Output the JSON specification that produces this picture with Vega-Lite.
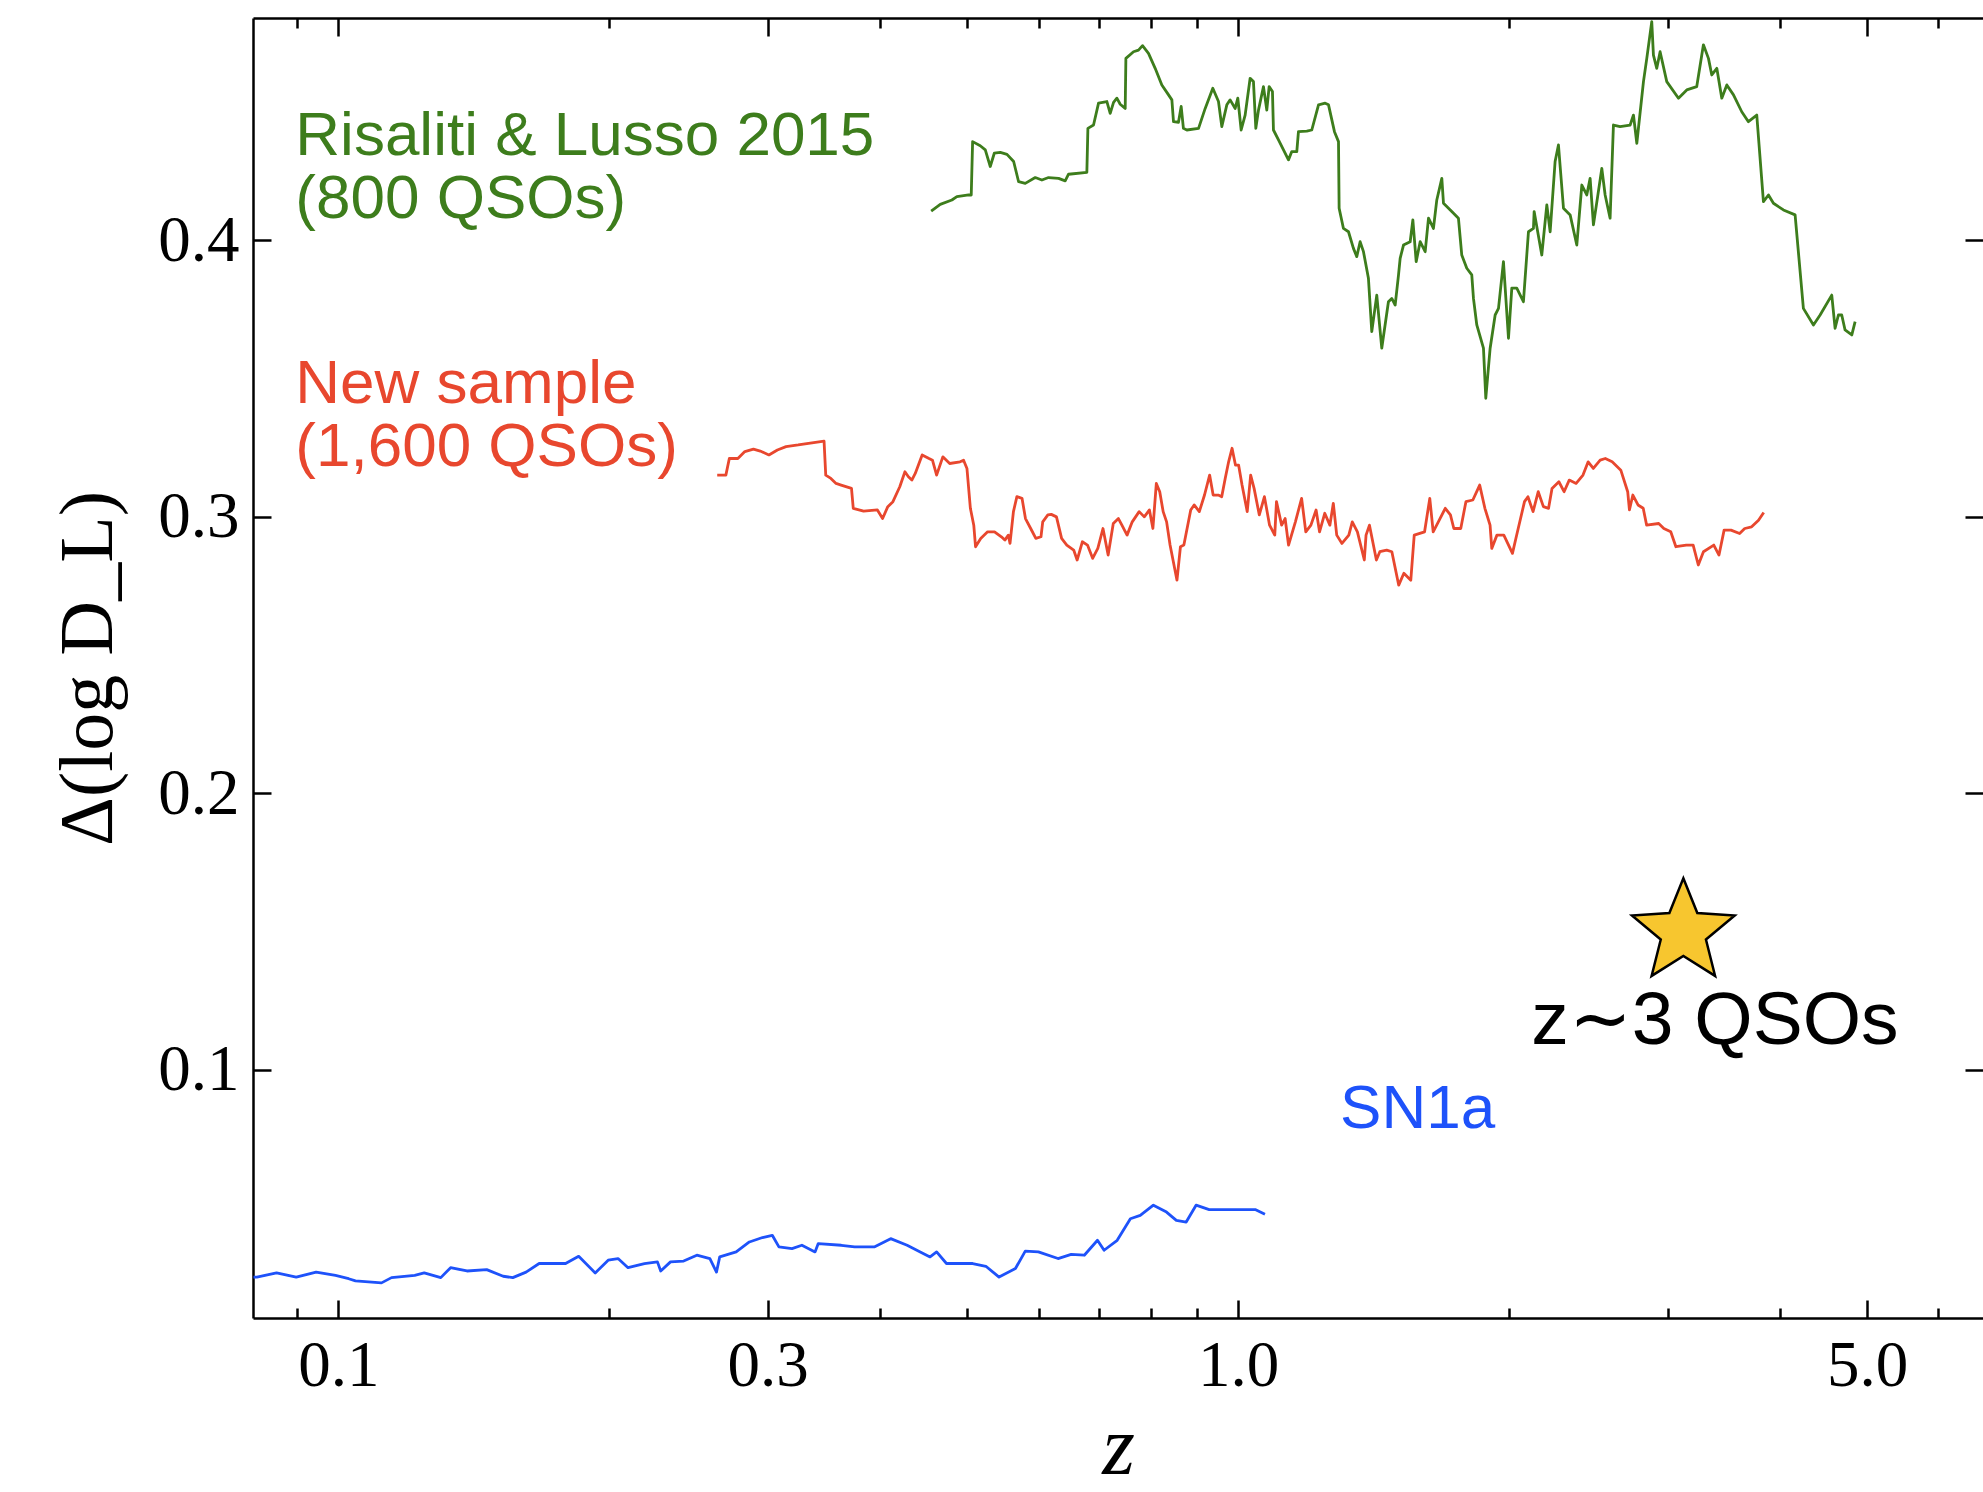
{
"$schema": "https://vega.github.io/schema/vega-lite/v6.json",
"width": 1730, "height": 1300,
"autosize": "none",
"padding": {"left": 253, "top": 18, "right": 0, "bottom": 174},
"background": "white",
"config": {"view": {"stroke": null}, "axis": {"grid": false, "domainColor": "black", "tickColor": "black", "labelColor": "black", "titleColor": "black", "domainWidth": 2.5, "tickWidth": 2.5}},
"datasets": {
"curves": [
{"s":"RL15","i":1,"z":0.4559,"v":0.4106},{"s":"RL15","i":2,"z":0.4666,"v":0.4130},{"s":"RL15","i":3,"z":0.4807,"v":0.4146},{"s":"RL15","i":4,"z":0.4869,"v":0.4158},{"s":"RL15","i":5,"z":0.5017,"v":0.4164},{"s":"RL15","i":6,"z":0.5051,"v":0.4164},{"s":"RL15","i":7,"z":0.5069,"v":0.4357},{"s":"RL15","i":8,"z":0.5169,"v":0.4342},{"s":"RL15","i":9,"z":0.5236,"v":0.4327},{"s":"RL15","i":10,"z":0.5303,"v":0.4267},
{"s":"RL15","i":11,"z":0.5358,"v":0.4315},{"s":"RL15","i":12,"z":0.5441,"v":0.4318},{"s":"RL15","i":13,"z":0.5535,"v":0.4311},{"s":"RL15","i":14,"z":0.5630,"v":0.4285},{"s":"RL15","i":15,"z":0.5702,"v":0.4212},{"s":"RL15","i":16,"z":0.5800,"v":0.4206},{"s":"RL15","i":17,"z":0.5950,"v":0.4227},{"s":"RL15","i":18,"z":0.6052,"v":0.4218},{"s":"RL15","i":19,"z":0.6156,"v":0.4227},{"s":"RL15","i":20,"z":0.6316,"v":0.4224},
{"s":"RL15","i":21,"z":0.6424,"v":0.4215},{"s":"RL15","i":22,"z":0.6479,"v":0.4239},{"s":"RL15","i":23,"z":0.6790,"v":0.4246},{"s":"RL15","i":24,"z":0.6808,"v":0.4405},{"s":"RL15","i":25,"z":0.6907,"v":0.4417},{"s":"RL15","i":26,"z":0.6996,"v":0.4496},{"s":"RL15","i":27,"z":0.7147,"v":0.4502},{"s":"RL15","i":28,"z":0.7208,"v":0.4459},{"s":"RL15","i":29,"z":0.7270,"v":0.4499},{"s":"RL15","i":30,"z":0.7332,"v":0.4514},
{"s":"RL15","i":31,"z":0.7395,"v":0.4492},{"s":"RL15","i":32,"z":0.7490,"v":0.4477},{"s":"RL15","i":33,"z":0.7503,"v":0.4658},{"s":"RL15","i":34,"z":0.7651,"v":0.4682},{"s":"RL15","i":35,"z":0.7749,"v":0.4688},{"s":"RL15","i":36,"z":0.7829,"v":0.4704},{"s":"RL15","i":37,"z":0.7950,"v":0.4676},{"s":"RL15","i":38,"z":0.8087,"v":0.4622},{"s":"RL15","i":39,"z":0.8226,"v":0.4562},{"s":"RL15","i":40,"z":0.8368,"v":0.4526},
{"s":"RL15","i":41,"z":0.8440,"v":0.4508},{"s":"RL15","i":42,"z":0.8475,"v":0.4429},{"s":"RL15","i":43,"z":0.8584,"v":0.4427},{"s":"RL15","i":44,"z":0.8643,"v":0.4484},{"s":"RL15","i":45,"z":0.8693,"v":0.4405},{"s":"RL15","i":46,"z":0.8769,"v":0.4399},{"s":"RL15","i":47,"z":0.9036,"v":0.4405},{"s":"RL15","i":48,"z":0.9191,"v":0.4477},{"s":"RL15","i":49,"z":0.9372,"v":0.4550},{"s":"RL15","i":50,"z":0.9509,"v":0.4502},
{"s":"RL15","i":51,"z":0.9590,"v":0.4411},{"s":"RL15","i":52,"z":0.9714,"v":0.4490},{"s":"RL15","i":53,"z":0.9797,"v":0.4508},{"s":"RL15","i":54,"z":0.9924,"v":0.4477},{"s":"RL15","i":55,"z":0.9991,"v":0.4514},{"s":"RL15","i":56,"z":1.0077,"v":0.4399},{"s":"RL15","i":57,"z":1.0180,"v":0.4453},{"s":"RL15","i":58,"z":1.0311,"v":0.4586},{"s":"RL15","i":59,"z":1.0399,"v":0.4574},{"s":"RL15","i":60,"z":1.0462,"v":0.4405},
{"s":"RL15","i":61,"z":1.0534,"v":0.4471},{"s":"RL15","i":62,"z":1.0669,"v":0.4556},{"s":"RL15","i":63,"z":1.0760,"v":0.4471},{"s":"RL15","i":64,"z":1.0825,"v":0.4556},{"s":"RL15","i":65,"z":1.0917,"v":0.4538},{"s":"RL15","i":66,"z":1.0945,"v":0.4399},{"s":"RL15","i":67,"z":1.1087,"v":0.4363},{"s":"RL15","i":68,"z":1.1230,"v":0.4327},{"s":"RL15","i":69,"z":1.1374,"v":0.4291},{"s":"RL15","i":70,"z":1.1471,"v":0.4321},
{"s":"RL15","i":71,"z":1.1619,"v":0.4321},{"s":"RL15","i":72,"z":1.1668,"v":0.4393},{"s":"RL15","i":73,"z":1.1920,"v":0.4395},{"s":"RL15","i":74,"z":1.2073,"v":0.4399},{"s":"RL15","i":75,"z":1.2283,"v":0.4490},{"s":"RL15","i":76,"z":1.2494,"v":0.4496},{"s":"RL15","i":77,"z":1.2601,"v":0.4490},{"s":"RL15","i":78,"z":1.2794,"v":0.4393},{"s":"RL15","i":79,"z":1.2927,"v":0.4357},{"s":"RL15","i":80,"z":1.2948,"v":0.4116},
{"s":"RL15","i":81,"z":1.3092,"v":0.4043},{"s":"RL15","i":82,"z":1.3262,"v":0.4031},{"s":"RL15","i":83,"z":1.3431,"v":0.3971},{"s":"RL15","i":84,"z":1.3546,"v":0.3941},{"s":"RL15","i":85,"z":1.3662,"v":0.3995},{"s":"RL15","i":86,"z":1.3780,"v":0.3959},{"s":"RL15","i":87,"z":1.3956,"v":0.3863},{"s":"RL15","i":88,"z":1.4076,"v":0.3670},{"s":"RL15","i":89,"z":1.4257,"v":0.3802},{"s":"RL15","i":90,"z":1.4440,"v":0.3610},
{"s":"RL15","i":91,"z":1.4689,"v":0.3778},{"s":"RL15","i":92,"z":1.4815,"v":0.3790},{"s":"RL15","i":93,"z":1.4944,"v":0.3766},{"s":"RL15","i":94,"z":1.5073,"v":0.3875},{"s":"RL15","i":95,"z":1.5136,"v":0.3935},{"s":"RL15","i":96,"z":1.5266,"v":0.3983},{"s":"RL15","i":97,"z":1.5529,"v":0.3995},{"s":"RL15","i":98,"z":1.5636,"v":0.4074},{"s":"RL15","i":99,"z":1.5770,"v":0.3923},{"s":"RL15","i":100,"z":1.5931,"v":0.3995},
{"s":"RL15","i":101,"z":1.6137,"v":0.3959},{"s":"RL15","i":102,"z":1.6275,"v":0.4080},{"s":"RL15","i":103,"z":1.6482,"v":0.4043},{"s":"RL15","i":104,"z":1.6624,"v":0.4146},{"s":"RL15","i":105,"z":1.6839,"v":0.4224},{"s":"RL15","i":106,"z":1.6911,"v":0.4134},{"s":"RL15","i":107,"z":1.7273,"v":0.4104},{"s":"RL15","i":108,"z":1.7570,"v":0.4080},{"s":"RL15","i":109,"z":1.7720,"v":0.3947},{"s":"RL15","i":110,"z":1.7950,"v":0.3899},
{"s":"RL15","i":111,"z":1.8180,"v":0.3875},{"s":"RL15","i":112,"z":1.8259,"v":0.3790},{"s":"RL15","i":113,"z":1.8415,"v":0.3694},{"s":"RL15","i":114,"z":1.8732,"v":0.3610},{"s":"RL15","i":115,"z":1.8844,"v":0.3429},{"s":"RL15","i":116,"z":1.9055,"v":0.3610},{"s":"RL15","i":117,"z":1.9301,"v":0.3730},{"s":"RL15","i":118,"z":1.9467,"v":0.3754},{"s":"RL15","i":119,"z":1.9715,"v":0.3923},{"s":"RL15","i":120,"z":1.9971,"v":0.3646},
{"s":"RL15","i":121,"z":2.0141,"v":0.3827},{"s":"RL15","i":122,"z":2.0399,"v":0.3827},{"s":"RL15","i":123,"z":2.0749,"v":0.3778},{"s":"RL15","i":124,"z":2.1018,"v":0.4031},{"s":"RL15","i":125,"z":2.1287,"v":0.4043},{"s":"RL15","i":126,"z":2.1326,"v":0.4104},{"s":"RL15","i":127,"z":2.1747,"v":0.3947},{"s":"RL15","i":128,"z":2.2029,"v":0.4128},{"s":"RL15","i":129,"z":2.2218,"v":0.4031},{"s":"RL15","i":130,"z":2.2501,"v":0.4285},
{"s":"RL15","i":131,"z":2.2694,"v":0.4345},{"s":"RL15","i":132,"z":2.2988,"v":0.4116},{"s":"RL15","i":133,"z":2.3383,"v":0.4092},{"s":"RL15","i":134,"z":2.3785,"v":0.3983},{"s":"RL15","i":135,"z":2.4093,"v":0.4200},{"s":"RL15","i":136,"z":2.4401,"v":0.4164},{"s":"RL15","i":137,"z":2.4610,"v":0.4224},{"s":"RL15","i":138,"z":2.4820,"v":0.4056},{"s":"RL15","i":139,"z":2.5357,"v":0.4260},{"s":"RL15","i":140,"z":2.5574,"v":0.4164},
{"s":"RL15","i":141,"z":2.5901,"v":0.4080},{"s":"RL15","i":142,"z":2.6123,"v":0.4417},{"s":"RL15","i":143,"z":2.6572,"v":0.4411},{"s":"RL15","i":144,"z":2.7264,"v":0.4417},{"s":"RL15","i":145,"z":2.7497,"v":0.4453},{"s":"RL15","i":146,"z":2.7733,"v":0.4351},{"s":"RL15","i":147,"z":2.8209,"v":0.4574},{"s":"RL15","i":148,"z":2.8450,"v":0.4658},{"s":"RL15","i":149,"z":2.8814,"v":0.4791},{"s":"RL15","i":150,"z":2.8938,"v":0.4670},
{"s":"RL15","i":151,"z":2.9186,"v":0.4622},{"s":"RL15","i":152,"z":2.9436,"v":0.4682},{"s":"RL15","i":153,"z":2.9942,"v":0.4574},{"s":"RL15","i":154,"z":3.0852,"v":0.4514},{"s":"RL15","i":155,"z":3.1514,"v":0.4544},{"s":"RL15","i":156,"z":3.2330,"v":0.4556},{"s":"RL15","i":157,"z":3.2886,"v":0.4707},{"s":"RL15","i":158,"z":3.3312,"v":0.4658},{"s":"RL15","i":159,"z":3.3597,"v":0.4598},{"s":"RL15","i":160,"z":3.4033,"v":0.4622},
{"s":"RL15","i":161,"z":3.4469,"v":0.4514},{"s":"RL15","i":162,"z":3.4915,"v":0.4562},{"s":"RL15","i":163,"z":3.5515,"v":0.4526},{"s":"RL15","i":164,"z":3.6276,"v":0.4465},{"s":"RL15","i":165,"z":3.6898,"v":0.4429},{"s":"RL15","i":166,"z":3.7696,"v":0.4453},{"s":"RL15","i":167,"z":3.8344,"v":0.4140},{"s":"RL15","i":168,"z":3.8841,"v":0.4164},{"s":"RL15","i":169,"z":3.9339,"v":0.4134},{"s":"RL15","i":170,"z":4.0356,"v":0.4110},
{"s":"RL15","i":171,"z":4.1581,"v":0.4092},{"s":"RL15","i":172,"z":4.2472,"v":0.3754},{"s":"RL15","i":173,"z":4.3579,"v":0.3694},{"s":"RL15","i":174,"z":4.4329,"v":0.3730},{"s":"RL15","i":175,"z":4.5670,"v":0.3802},{"s":"RL15","i":176,"z":4.6061,"v":0.3682},{"s":"RL15","i":177,"z":4.6452,"v":0.3730},{"s":"RL15","i":178,"z":4.6850,"v":0.3730},{"s":"RL15","i":179,"z":4.7251,"v":0.3676},{"s":"RL15","i":180,"z":4.8073,"v":0.3658},
{"s":"RL15","i":181,"z":4.8484,"v":0.3706},
{"s":"New","i":1,"z":0.2637,"v":0.3151},{"s":"New","i":2,"z":0.2696,"v":0.3151},{"s":"New","i":3,"z":0.2720,"v":0.3211},{"s":"New","i":4,"z":0.2780,"v":0.3211},{"s":"New","i":5,"z":0.2830,"v":0.3236},{"s":"New","i":6,"z":0.2893,"v":0.3245},{"s":"New","i":7,"z":0.2944,"v":0.3238},{"s":"New","i":8,"z":0.3010,"v":0.3224},{"s":"New","i":9,"z":0.3076,"v":0.3242},{"s":"New","i":10,"z":0.3145,"v":0.3254},
{"s":"New","i":11,"z":0.3244,"v":0.3260},{"s":"New","i":12,"z":0.3331,"v":0.3266},{"s":"New","i":13,"z":0.3466,"v":0.3274},{"s":"New","i":14,"z":0.3481,"v":0.3151},{"s":"New","i":15,"z":0.3527,"v":0.3139},{"s":"New","i":16,"z":0.3574,"v":0.3121},{"s":"New","i":17,"z":0.3621,"v":0.3115},{"s":"New","i":18,"z":0.3718,"v":0.3103},{"s":"New","i":19,"z":0.3735,"v":0.3031},{"s":"New","i":20,"z":0.3835,"v":0.3021},
{"s":"New","i":21,"z":0.3973,"v":0.3025},{"s":"New","i":22,"z":0.4026,"v":0.2994},{"s":"New","i":23,"z":0.4080,"v":0.3037},{"s":"New","i":24,"z":0.4134,"v":0.3055},{"s":"New","i":25,"z":0.4207,"v":0.3109},{"s":"New","i":26,"z":0.4263,"v":0.3163},{"s":"New","i":27,"z":0.4301,"v":0.3145},{"s":"New","i":28,"z":0.4339,"v":0.3133},{"s":"New","i":29,"z":0.4377,"v":0.3157},{"s":"New","i":30,"z":0.4455,"v":0.3224},
{"s":"New","i":31,"z":0.4534,"v":0.3211},{"s":"New","i":32,"z":0.4574,"v":0.3205},{"s":"New","i":33,"z":0.4623,"v":0.3151},{"s":"New","i":34,"z":0.4697,"v":0.3217},{"s":"New","i":35,"z":0.4780,"v":0.3193},{"s":"New","i":36,"z":0.4909,"v":0.3199},{"s":"New","i":37,"z":0.4953,"v":0.3205},{"s":"New","i":38,"z":0.4996,"v":0.3175},{"s":"New","i":39,"z":0.5040,"v":0.3031},{"s":"New","i":40,"z":0.5084,"v":0.2970},
{"s":"New","i":41,"z":0.5107,"v":0.2892},{"s":"New","i":42,"z":0.5175,"v":0.2922},{"s":"New","i":43,"z":0.5267,"v":0.2946},{"s":"New","i":44,"z":0.5361,"v":0.2946},{"s":"New","i":45,"z":0.5456,"v":0.2928},{"s":"New","i":46,"z":0.5505,"v":0.2916},{"s":"New","i":47,"z":0.5554,"v":0.2934},{"s":"New","i":48,"z":0.5578,"v":0.2904},{"s":"New","i":49,"z":0.5627,"v":0.3019},{"s":"New","i":50,"z":0.5677,"v":0.3073},
{"s":"New","i":51,"z":0.5752,"v":0.3067},{"s":"New","i":52,"z":0.5803,"v":0.2994},{"s":"New","i":53,"z":0.5881,"v":0.2958},{"s":"New","i":54,"z":0.5959,"v":0.2922},{"s":"New","i":55,"z":0.6038,"v":0.2928},{"s":"New","i":56,"z":0.6065,"v":0.2982},{"s":"New","i":57,"z":0.6145,"v":0.3007},{"s":"New","i":58,"z":0.6199,"v":0.3009},{"s":"New","i":59,"z":0.6282,"v":0.3000},{"s":"New","i":60,"z":0.6365,"v":0.2922},
{"s":"New","i":61,"z":0.6450,"v":0.2898},{"s":"New","i":62,"z":0.6565,"v":0.2880},{"s":"New","i":63,"z":0.6623,"v":0.2844},{"s":"New","i":64,"z":0.6712,"v":0.2910},{"s":"New","i":65,"z":0.6801,"v":0.2898},{"s":"New","i":66,"z":0.6891,"v":0.2850},{"s":"New","i":67,"z":0.6983,"v":0.2886},{"s":"New","i":68,"z":0.7076,"v":0.2958},{"s":"New","i":69,"z":0.7170,"v":0.2862},{"s":"New","i":70,"z":0.7265,"v":0.2976},
{"s":"New","i":71,"z":0.7361,"v":0.2994},{"s":"New","i":72,"z":0.7427,"v":0.2970},{"s":"New","i":73,"z":0.7526,"v":0.2934},{"s":"New","i":74,"z":0.7626,"v":0.2982},{"s":"New","i":75,"z":0.7762,"v":0.3019},{"s":"New","i":76,"z":0.7865,"v":0.3000},{"s":"New","i":77,"z":0.7969,"v":0.3025},{"s":"New","i":78,"z":0.8040,"v":0.2958},{"s":"New","i":79,"z":0.8111,"v":0.3121},{"s":"New","i":80,"z":0.8182,"v":0.3091},
{"s":"New","i":81,"z":0.8254,"v":0.3019},{"s":"New","i":82,"z":0.8327,"v":0.2982},{"s":"New","i":83,"z":0.8401,"v":0.2898},{"s":"New","i":84,"z":0.8551,"v":0.2771},{"s":"New","i":85,"z":0.8627,"v":0.2892},{"s":"New","i":86,"z":0.8703,"v":0.2898},{"s":"New","i":87,"z":0.8857,"v":0.3025},{"s":"New","i":88,"z":0.8935,"v":0.3043},{"s":"New","i":89,"z":0.9054,"v":0.3019},{"s":"New","i":90,"z":0.9175,"v":0.3079},
{"s":"New","i":91,"z":0.9296,"v":0.3151},{"s":"New","i":92,"z":0.9380,"v":0.3079},{"s":"New","i":93,"z":0.9504,"v":0.3079},{"s":"New","i":94,"z":0.9588,"v":0.3073},{"s":"New","i":95,"z":0.9674,"v":0.3139},{"s":"New","i":96,"z":0.9759,"v":0.3199},{"s":"New","i":97,"z":0.9845,"v":0.3248},{"s":"New","i":98,"z":0.9932,"v":0.3187},
{"s":"New","i":99,"z":1.0012,"v":0.3187},{"s":"New","i":100,"z":1.0100,"v":0.3115},{"s":"New","i":101,"z":1.0235,"v":0.3019},{"s":"New","i":102,"z":1.0325,"v":0.3151},{"s":"New","i":103,"z":1.0416,"v":0.3103},{"s":"New","i":104,"z":1.0556,"v":0.3007},{"s":"New","i":105,"z":1.0695,"v":0.3073},{"s":"New","i":106,"z":1.0837,"v":0.2970},{"s":"New","i":107,"z":1.0982,"v":0.2934},{"s":"New","i":108,"z":1.1030,"v":0.3055},
{"s":"New","i":109,"z":1.1177,"v":0.2970},{"s":"New","i":110,"z":1.1277,"v":0.2994},{"s":"New","i":111,"z":1.1376,"v":0.2898},{"s":"New","i":112,"z":1.1577,"v":0.2982},{"s":"New","i":113,"z":1.1763,"v":0.3067},{"s":"New","i":114,"z":1.1889,"v":0.2946},{"s":"New","i":115,"z":1.2046,"v":0.2970},{"s":"New","i":116,"z":1.2207,"v":0.3025},{"s":"New","i":117,"z":1.2315,"v":0.2946},{"s":"New","i":118,"z":1.2480,"v":0.3013},
{"s":"New","i":119,"z":1.2645,"v":0.2970},{"s":"New","i":120,"z":1.2757,"v":0.3049},{"s":"New","i":121,"z":1.2869,"v":0.2934},{"s":"New","i":122,"z":1.3042,"v":0.2904},{"s":"New","i":123,"z":1.3273,"v":0.2934},{"s":"New","i":124,"z":1.3391,"v":0.2982},{"s":"New","i":125,"z":1.3568,"v":0.2946},{"s":"New","i":126,"z":1.3810,"v":0.2844},{"s":"New","i":127,"z":1.3871,"v":0.2934},{"s":"New","i":128,"z":1.3993,"v":0.2970},
{"s":"New","i":129,"z":1.4243,"v":0.2844},{"s":"New","i":130,"z":1.4369,"v":0.2874},{"s":"New","i":131,"z":1.4623,"v":0.2880},{"s":"New","i":132,"z":1.4818,"v":0.2874},{"s":"New","i":133,"z":1.5081,"v":0.2753},{"s":"New","i":134,"z":1.5281,"v":0.2796},{"s":"New","i":135,"z":1.5554,"v":0.2771},{"s":"New","i":136,"z":1.5691,"v":0.2934},{"s":"New","i":137,"z":1.6112,"v":0.2946},{"s":"New","i":138,"z":1.6328,"v":0.3067},
{"s":"New","i":139,"z":1.6471,"v":0.2946},{"s":"New","i":140,"z":1.6690,"v":0.2982},{"s":"New","i":141,"z":1.6988,"v":0.3031},{"s":"New","i":142,"z":1.7214,"v":0.3007},{"s":"New","i":143,"z":1.7365,"v":0.2958},{"s":"New","i":144,"z":1.7675,"v":0.2958},{"s":"New","i":145,"z":1.7910,"v":0.3055},{"s":"New","i":146,"z":1.8230,"v":0.3061},{"s":"New","i":147,"z":1.8552,"v":0.3115},{"s":"New","i":148,"z":1.8801,"v":0.3031},
{"s":"New","i":149,"z":1.9051,"v":0.2970},{"s":"New","i":150,"z":1.9135,"v":0.2886},{"s":"New","i":151,"z":1.9388,"v":0.2934},{"s":"New","i":152,"z":1.9734,"v":0.2934},{"s":"New","i":153,"z":2.0175,"v":0.2868},{"s":"New","i":154,"z":2.0352,"v":0.2922},{"s":"New","i":155,"z":2.0806,"v":0.3055},{"s":"New","i":156,"z":2.0989,"v":0.3073},{"s":"New","i":157,"z":2.1267,"v":0.3019},{"s":"New","i":158,"z":2.1551,"v":0.3091},
{"s":"New","i":159,"z":2.1837,"v":0.3037},{"s":"New","i":160,"z":2.2127,"v":0.3031},{"s":"New","i":161,"z":2.2324,"v":0.3103},{"s":"New","i":162,"z":2.2719,"v":0.3127},{"s":"New","i":163,"z":2.3024,"v":0.3091},{"s":"New","i":164,"z":2.3329,"v":0.3133},{"s":"New","i":165,"z":2.3745,"v":0.3121},{"s":"New","i":166,"z":2.4165,"v":0.3151},{"s":"New","i":167,"z":2.4487,"v":0.3199},{"s":"New","i":168,"z":2.4812,"v":0.3175},
{"s":"New","i":169,"z":2.5251,"v":0.3205},{"s":"New","i":170,"z":2.5585,"v":0.3211},{"s":"New","i":171,"z":2.6039,"v":0.3199},{"s":"New","i":172,"z":2.6620,"v":0.3169},{"s":"New","i":173,"z":2.7094,"v":0.3091},{"s":"New","i":174,"z":2.7214,"v":0.3025},{"s":"New","i":175,"z":2.7454,"v":0.3079},{"s":"New","i":176,"z":2.7818,"v":0.3043},{"s":"New","i":177,"z":2.8191,"v":0.3031},{"s":"New","i":178,"z":2.8439,"v":0.2970},
{"s":"New","i":179,"z":2.9331,"v":0.2976},{"s":"New","i":180,"z":2.9719,"v":0.2958},{"s":"New","i":181,"z":3.0249,"v":0.2946},{"s":"New","i":182,"z":3.0650,"v":0.2892},{"s":"New","i":183,"z":3.1471,"v":0.2898},{"s":"New","i":184,"z":3.2034,"v":0.2898},{"s":"New","i":185,"z":3.2458,"v":0.2826},{"s":"New","i":186,"z":3.2888,"v":0.2874},{"s":"New","i":187,"z":3.3770,"v":0.2898},{"s":"New","i":188,"z":3.4223,"v":0.2862},
{"s":"New","i":189,"z":3.4674,"v":0.2952},{"s":"New","i":190,"z":3.5288,"v":0.2952},{"s":"New","i":191,"z":3.6076,"v":0.2940},{"s":"New","i":192,"z":3.6553,"v":0.2958},{"s":"New","i":193,"z":3.7205,"v":0.2964},{"s":"New","i":194,"z":3.7865,"v":0.2988},{"s":"New","i":195,"z":3.8373,"v":0.3016},
{"s":"SN","i":1,"z":0.0805,"v":0.0251},{"s":"SN","i":2,"z":0.0812,"v":0.0251},{"s":"SN","i":3,"z":0.0854,"v":0.0266},{"s":"SN","i":4,"z":0.0898,"v":0.0251},{"s":"SN","i":5,"z":0.0945,"v":0.0269},{"s":"SN","i":6,"z":0.0993,"v":0.0257},{"s":"SN","i":7,"z":0.1027,"v":0.0245},{"s":"SN","i":8,"z":0.1045,"v":0.0237},{"s":"SN","i":9,"z":0.1117,"v":0.0230},{"s":"SN","i":10,"z":0.1146,"v":0.0249},
{"s":"SN","i":11,"z":0.1216,"v":0.0257},{"s":"SN","i":12,"z":0.1246,"v":0.0266},{"s":"SN","i":13,"z":0.1300,"v":0.0249},{"s":"SN","i":14,"z":0.1333,"v":0.0285},{"s":"SN","i":15,"z":0.1390,"v":0.0273},{"s":"SN","i":16,"z":0.1462,"v":0.0278},{"s":"SN","i":17,"z":0.1525,"v":0.0254},{"s":"SN","i":18,"z":0.1563,"v":0.0249},{"s":"SN","i":19,"z":0.1617,"v":0.0269},{"s":"SN","i":20,"z":0.1672,"v":0.0300},
{"s":"SN","i":21,"z":0.1789,"v":0.0300},{"s":"SN","i":22,"z":0.1850,"v":0.0326},{"s":"SN","i":23,"z":0.1930,"v":0.0266},{"s":"SN","i":24,"z":0.1995,"v":0.0312},{"s":"SN","i":25,"z":0.2046,"v":0.0318},{"s":"SN","i":26,"z":0.2099,"v":0.0285},{"s":"SN","i":27,"z":0.2189,"v":0.0300},{"s":"SN","i":28,"z":0.2263,"v":0.0306},{"s":"SN","i":29,"z":0.2282,"v":0.0273},{"s":"SN","i":30,"z":0.2340,"v":0.0306},
{"s":"SN","i":31,"z":0.2420,"v":0.0309},{"s":"SN","i":32,"z":0.2503,"v":0.0330},{"s":"SN","i":33,"z":0.2588,"v":0.0318},{"s":"SN","i":34,"z":0.2632,"v":0.0269},{"s":"SN","i":35,"z":0.2654,"v":0.0324},{"s":"SN","i":36,"z":0.2768,"v":0.0342},{"s":"SN","i":37,"z":0.2863,"v":0.0378},{"s":"SN","i":38,"z":0.2961,"v":0.0394},{"s":"SN","i":39,"z":0.3036,"v":0.0402},{"s":"SN","i":40,"z":0.3088,"v":0.0360},
{"s":"SN","i":41,"z":0.3193,"v":0.0354},{"s":"SN","i":42,"z":0.3275,"v":0.0366},{"s":"SN","i":43,"z":0.3387,"v":0.0342},{"s":"SN","i":44,"z":0.3415,"v":0.0372},{"s":"SN","i":45,"z":0.3622,"v":0.0366},{"s":"SN","i":46,"z":0.3748,"v":0.0360},{"s":"SN","i":47,"z":0.3941,"v":0.0360},{"s":"SN","i":48,"z":0.4110,"v":0.0390},{"s":"SN","i":49,"z":0.4287,"v":0.0366},{"s":"SN","i":50,"z":0.4433,"v":0.0342},
{"s":"SN","i":51,"z":0.4546,"v":0.0324},{"s":"SN","i":52,"z":0.4623,"v":0.0342},{"s":"SN","i":53,"z":0.4741,"v":0.0300},{"s":"SN","i":54,"z":0.5070,"v":0.0300},{"s":"SN","i":55,"z":0.5244,"v":0.0290},{"s":"SN","i":56,"z":0.5424,"v":0.0251},{"s":"SN","i":57,"z":0.5656,"v":0.0282},{"s":"SN","i":58,"z":0.5800,"v":0.0345},{"s":"SN","i":59,"z":0.5998,"v":0.0342},{"s":"SN","i":60,"z":0.6307,"v":0.0318},
{"s":"SN","i":61,"z":0.6523,"v":0.0333},{"s":"SN","i":62,"z":0.6746,"v":0.0330},{"s":"SN","i":63,"z":0.6977,"v":0.0384},{"s":"SN","i":64,"z":0.7096,"v":0.0348},{"s":"SN","i":65,"z":0.7338,"v":0.0384},{"s":"SN","i":66,"z":0.7590,"v":0.0462},{"s":"SN","i":67,"z":0.7784,"v":0.0474},{"s":"SN","i":68,"z":0.8050,"v":0.0511},{"s":"SN","i":69,"z":0.8325,"v":0.0486},{"s":"SN","i":70,"z":0.8537,"v":0.0456},
{"s":"SN","i":71,"z":0.8755,"v":0.0450},{"s":"SN","i":72,"z":0.8979,"v":0.0511},{"s":"SN","i":73,"z":0.9286,"v":0.0495},{"s":"SN","i":74,"z":0.9931,"v":0.0495},{"s":"SN","i":75,"z":1.0445,"v":0.0495},{"s":"SN","i":76,"z":1.0710,"v":0.0478}
],
"labels": [
{"s":"RL15","t":["Risaliti & Lusso 2015","(800 QSOs)"],"z":0.0896,"v":0.4378},
{"s":"New","t":["New sample","(1,600 QSOs)"],"z":0.0896,"v":0.3482},
{"s":"SN","t":["SN1a"],"z":1.298,"v":0.0860}
],
"qso": [{"t":"z∼3 QSOs","z":3.387,"v":0.1178}],
"star": [{"z":3.124,"v":0.1498}]
},
"layer": [
{"data": {"name": "curves"},
 "mark": {"type": "line", "strokeWidth": 2.8, "strokeJoin": "round"},
 "encoding": {
  "x": {"field": "z", "type": "quantitative", "scale": {"type": "log", "domain": [0.0804, 6.725], "nice": false},
        "axis": {"orient": "bottom", "values": [0.1, 0.3, 1, 5], "format": ".1f", "ticks": false, "domain": true, "labelFont": "Liberation Serif", "labelFontSize": 65, "labelPadding": 16, "labelFlush": false, "labelOverlap": false, "title": "z", "titleFont": "Liberation Serif", "titleFontSize": 84, "titleFontStyle": "italic", "titleFontWeight": "normal", "titlePadding": 9}},
  "y": {"field": "v", "type": "quantitative", "scale": {"domain": [0.0103, 0.4804], "nice": false, "zero": false},
        "axis": {"orient": "left", "values": [0.1, 0.2, 0.3, 0.4], "format": ".1f", "ticks": false, "domain": true, "labelFont": "Liberation Serif", "labelFontSize": 65, "labelPadding": 14, "labelFlush": false, "labelOverlap": false, "title": "Δ(log D_L)", "titleFont": "Liberation Serif", "titleFontSize": 76, "titleFontWeight": "normal", "titlePadding": 30}},
  "color": {"field": "s", "type": "nominal", "scale": {"domain": ["RL15", "New", "SN"], "range": ["#3d7d1c", "#e8472e", "#1e52fa"]}, "legend": null},
  "detail": {"field": "s"},
  "order": {"field": "i", "type": "quantitative"}
 }},
{"data": {"name": "star"},
 "mark": {"type": "point", "opacity": 0},
 "encoding": {
  "x": {"field": "z", "type": "quantitative", "scale": {"type": "log", "domain": [0.0804, 6.725], "nice": false},
        "axis": {"orient": "bottom", "values": [0.1, 0.3, 1, 5], "labels": false, "domain": false, "ticks": true, "tickSize": -18, "title": null}},
  "y": {"field": "v", "type": "quantitative", "scale": {"domain": [0.0103, 0.4804], "nice": false, "zero": false},
        "axis": {"orient": "left", "values": [0.1, 0.2, 0.3, 0.4], "labels": false, "domain": false, "ticks": true, "tickSize": -18, "title": null}}
 }},
{"data": {"name": "star"},
 "mark": {"type": "point", "opacity": 0},
 "encoding": {
  "x": {"field": "z", "type": "quantitative", "scale": {"type": "log", "domain": [0.0804, 6.725], "nice": false},
        "axis": {"orient": "bottom", "values": [0.09, 0.2, 0.4, 0.5, 0.6, 0.7, 0.8, 0.9, 2, 3, 4, 6], "labels": false, "domain": false, "ticks": true, "tickSize": -10, "title": null}},
  "y": {"field": "v", "type": "quantitative", "scale": {"domain": [0.0103, 0.4804], "nice": false, "zero": false},
        "axis": {"orient": "right", "values": [0.1, 0.2, 0.3, 0.4], "labels": false, "domain": false, "ticks": true, "tickSize": -18, "title": null}}
 }},
{"data": {"name": "star"},
 "mark": {"type": "point", "opacity": 0},
 "encoding": {
  "x": {"field": "z", "type": "quantitative", "scale": {"type": "log", "domain": [0.0804, 6.725], "nice": false},
        "axis": {"orient": "top", "values": [0.1, 0.3, 1, 5], "labels": false, "domain": true, "ticks": true, "tickSize": -18, "title": null}},
  "y": {"field": "v", "type": "quantitative", "scale": {"domain": [0.0103, 0.4804], "nice": false, "zero": false}, "axis": null}
 }},
{"data": {"name": "star"},
 "mark": {"type": "point", "opacity": 0},
 "encoding": {
  "x": {"field": "z", "type": "quantitative", "scale": {"type": "log", "domain": [0.0804, 6.725], "nice": false},
        "axis": {"orient": "top", "values": [0.09, 0.2, 0.4, 0.5, 0.6, 0.7, 0.8, 0.9, 2, 3, 4, 6], "labels": false, "domain": false, "ticks": true, "tickSize": -10, "title": null}},
  "y": {"field": "v", "type": "quantitative", "scale": {"domain": [0.0103, 0.4804], "nice": false, "zero": false}, "axis": null}
 }},
{"data": {"name": "labels"},
 "mark": {"type": "text", "align": "left", "baseline": "middle", "font": "Liberation Sans", "fontSize": 62, "lineHeight": 63.5},
 "encoding": {
  "x": {"field": "z", "type": "quantitative", "scale": {"type": "log", "domain": [0.0804, 6.725], "nice": false}, "axis": null},
  "y": {"field": "v", "type": "quantitative", "scale": {"domain": [0.0103, 0.4804], "nice": false, "zero": false}, "axis": null},
  "text": {"field": "t"},
  "color": {"field": "s", "type": "nominal", "scale": {"domain": ["RL15", "New", "SN"], "range": ["#3d7d1c", "#e8472e", "#1e52fa"]}, "legend": null}
 }},
{"data": {"name": "qso"},
 "mark": {"type": "text", "align": "center", "baseline": "middle", "font": "Liberation Sans", "fontSize": 75, "color": "black"},
 "encoding": {
  "x": {"field": "z", "type": "quantitative", "scale": {"type": "log", "domain": [0.0804, 6.725], "nice": false}, "axis": null},
  "y": {"field": "v", "type": "quantitative", "scale": {"domain": [0.0103, 0.4804], "nice": false, "zero": false}, "axis": null},
  "text": {"field": "t"}
 }},
{"data": {"name": "star"},
 "mark": {"type": "point", "shape": "M0,-1L0.2587,-0.356L0.951,-0.309L0.4184,0.136L0.588,0.809L0,0.44L-0.588,0.809L-0.4184,0.136L-0.951,-0.309L-0.2587,-0.356Z", "filled": true, "fill": "#f7c62f", "stroke": "black", "strokeWidth": 2.5, "size": 11664, "opacity": 1},
 "encoding": {
  "x": {"field": "z", "type": "quantitative", "scale": {"type": "log", "domain": [0.0804, 6.725], "nice": false}, "axis": null},
  "y": {"field": "v", "type": "quantitative", "scale": {"domain": [0.0103, 0.4804], "nice": false, "zero": false}, "axis": null}
 }}
],
"resolve": {"axis": {"x": "independent", "y": "independent"}}
}
